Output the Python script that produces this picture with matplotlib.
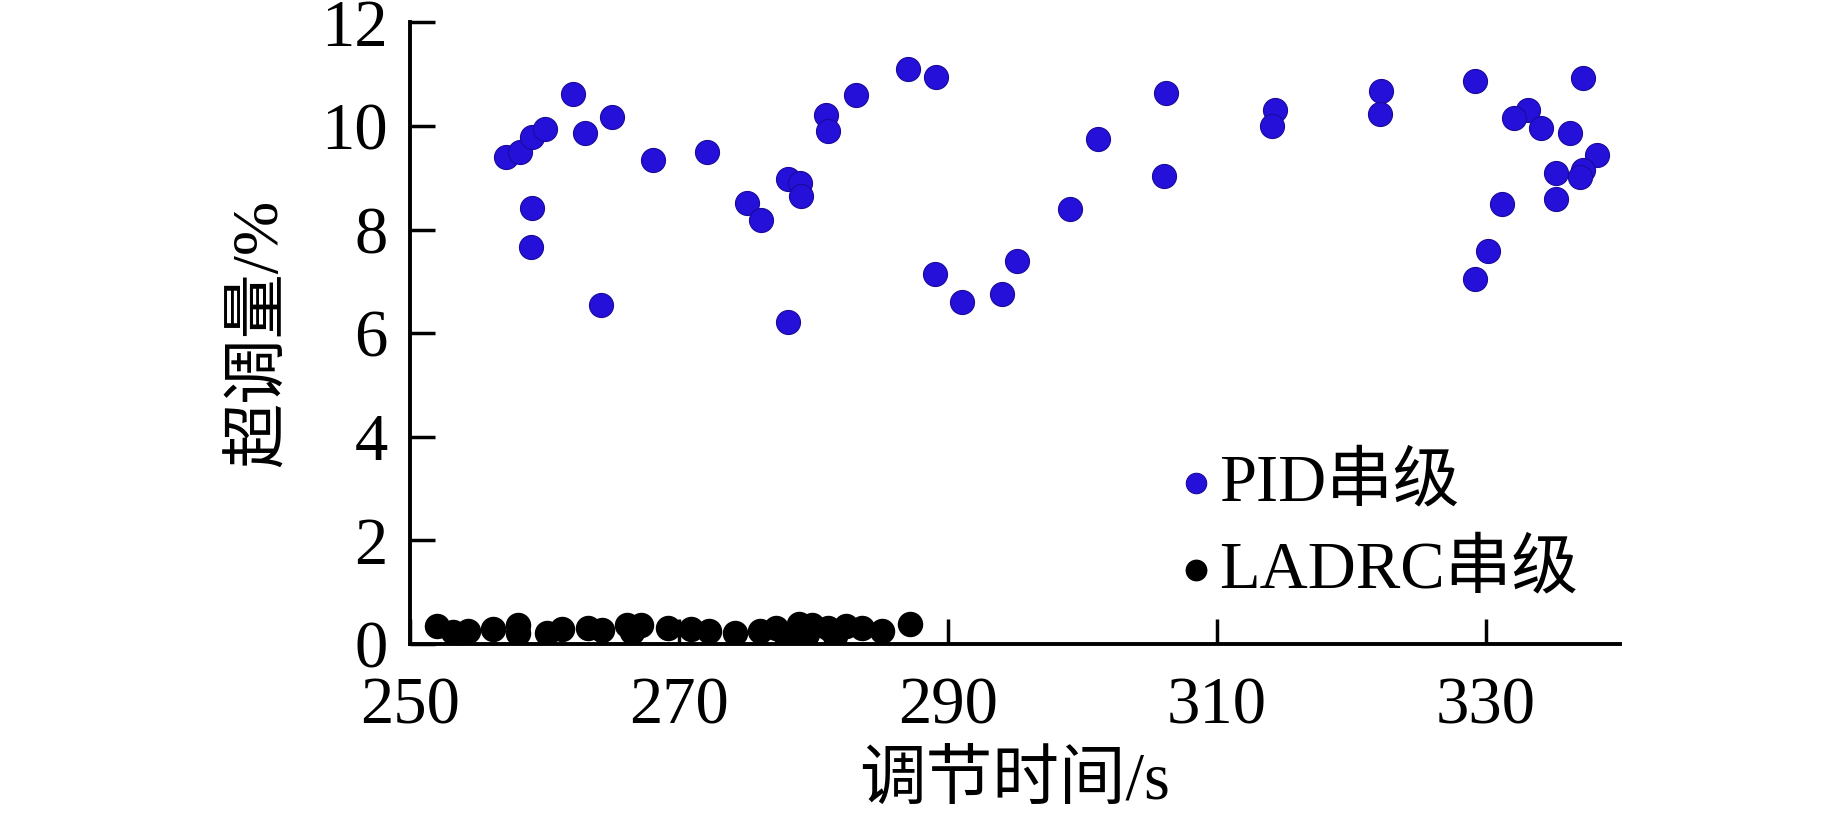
import matplotlib.pyplot as plt

plt.rcParams['font.family'] = ['Liberation Serif', 'Noto Sans CJK SC']
plt.rcParams['mathtext.fontset'] = 'stix'

# PID cascade: settling time (s) and overshoot (%)
pid_t = [257.1, 258.15, 259.09, 260.01, 262.09, 263.02, 265.04, 259.09, 259.01, 264.19,
         268.07, 272.11, 275.09, 276.1, 278.14, 279.02, 279.07, 278.12, 280.93, 281.09,
         283.14, 287.04, 289.11, 289.06, 291.08, 294.05, 295.15, 299.11, 301.15, 306.25,
         306.06, 314.31, 314.12, 322.21, 322.18, 329.21, 337.28, 333.19, 332.12, 334.12,
         336.26, 338.26, 337.28, 337.0, 335.25, 335.25, 331.22, 330.16, 329.21]
pid_os = [9.40, 9.50, 9.79, 9.95, 10.61, 9.86, 10.17, 8.41, 7.66, 6.55,
          9.34, 9.49, 8.51, 8.18, 8.97, 8.90, 8.65, 6.21, 10.21, 9.90,
          10.60, 11.11, 10.95, 7.14, 6.60, 6.75, 7.40, 8.40, 9.75, 10.63,
          9.04, 10.31, 10.00, 10.68, 10.23, 10.87, 10.93, 10.31, 10.15, 9.97,
          9.87, 9.44, 9.15, 9.02, 9.10, 8.59, 8.49, 7.58, 7.04]

# LADRC cascade
ladrc_t = [252.0, 253.2, 254.3, 256.2, 258.0, 258.0, 260.2, 261.3, 263.2, 264.3,
           266.1, 266.5, 267.2, 269.2, 270.9, 272.2, 274.2, 276.0, 277.2, 278.0,
           278.9, 279.5, 279.9, 281.1, 281.6, 282.4, 283.6, 285.1, 287.2]
ladrc_os = [0.33, 0.22, 0.25, 0.28, 0.35, 0.20, 0.20, 0.28, 0.30, 0.27,
            0.35, 0.22, 0.35, 0.30, 0.28, 0.25, 0.20, 0.25, 0.30, 0.15,
            0.38, 0.18, 0.36, 0.30, 0.15, 0.33, 0.30, 0.25, 0.38]

xticks = [250, 270, 290, 310, 330]
yticks = [0, 2, 4, 6, 8, 10, 12]

fig = plt.figure(figsize=(18.43, 8.18), dpi=100)
ax = fig.add_axes([0.2225, 0.2133, 0.6565, 0.7592])

ax.scatter(pid_t, pid_os, s=300, color='#2410d8', edgecolors='#1a0a9a', linewidths=0.8,
           label='PID串级', zorder=3)
ax.scatter(ladrc_t, ladrc_os, s=300, color='black', label='LADRC串级', zorder=3)

ax.set_xlim(250, 340)
ax.set_ylim(0, 12)
ax.set_xticks(xticks)
ax.set_yticks(yticks)

for side in ['top', 'right']:
    ax.spines[side].set_visible(False)
for side in ['left', 'bottom']:
    ax.spines[side].set_linewidth(2.8)

ax.tick_params(axis='both', direction='in', length=18, width=2.5, labelsize=48)
ax.tick_params(axis='x', pad=24)
ax.tick_params(axis='y', pad=16)

ax.set_xlabel('调节时间/s', fontsize=48, labelpad=10)
ax.set_ylabel('超调量/%', fontsize=47, labelpad=22)

ax.legend(loc='upper left', bbox_to_anchor=(1186 / 1843, 1 - 453 / 818),
          bbox_transform=fig.transFigure, frameon=False, fontsize=48,
          markerscale=0.85, handlelength=0.3, handletextpad=0.2,
          borderpad=0, borderaxespad=0, labelspacing=0.38)

fig.savefig('out.png', dpi=100)
